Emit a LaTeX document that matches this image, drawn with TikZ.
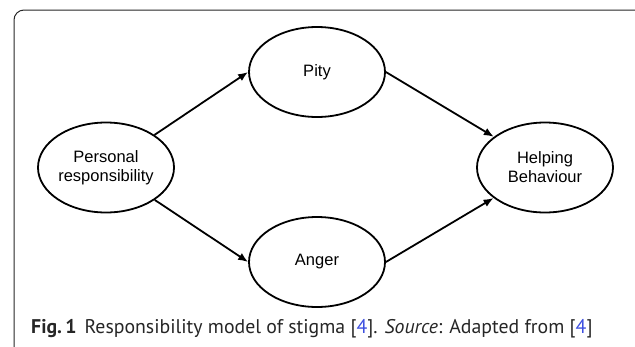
\documentclass[tikz,border=0pt]{standalone}
\usepackage{fontspec}
\setmainfont{Liberation Sans}
\newfontfamily\capfont{PT Sans}
\usepackage{xcolor}
\usetikzlibrary{arrows.meta,shapes.geometric}

\definecolor{citeblue}{HTML}{3D4FE0}

\begin{document}
\begin{tikzpicture}[
  x=1pt, y=-1pt,
  font=\fontsize{16.5}{19}\selectfont,
  emo/.style   = {draw, ellipse, line width=1.8pt, align=center, inner sep=0pt,
                  minimum width=136pt, minimum height=90pt},
  ar/.style    = {-{Latex[length=10pt, width=8pt]}, line width=1.8pt},
  frame/.style = {draw=black!85, line width=1pt, rounded corners=10pt}
]
\clip (0,0) rectangle (635,346);

% ---- frame ------------------------------------------------------------
\draw[frame] (14,360) -- (14,10) -- (645,10);

% ---- nodes ------------------------------------------------------------
\node[emo] (pr)    at (106,167.5) {Personal\\responsibility};
\node[emo] (pity)  at (317,72)    {Pity};
\node[emo] (anger) at (317,262)   {Anger};
\node[emo] (help)  at (545,167.5) {Helping\\Behaviour};

% ---- arrows -----------------------------------------------------------
\draw[ar] (pr) -- (pity.west);
\draw[ar] (pr) -- (anger.west);
\draw[ar] (pity.east) -- (help);
\draw[ar] (anger.east) -- (help);

% ---- caption ----------------------------------------------------------
\node[anchor=base west, inner sep=0pt, text=black!85,
      font=\capfont\fontsize{19.8}{22}\selectfont] (cap) at (31,333)
  {\textbf{Fig.\,1}\hspace{8pt}Responsibility model of stigma
   [\textcolor{citeblue}{4}]. \textit{Source}: Adapted from
   [\textcolor{citeblue}{4}]};

\end{tikzpicture}
\end{document}
